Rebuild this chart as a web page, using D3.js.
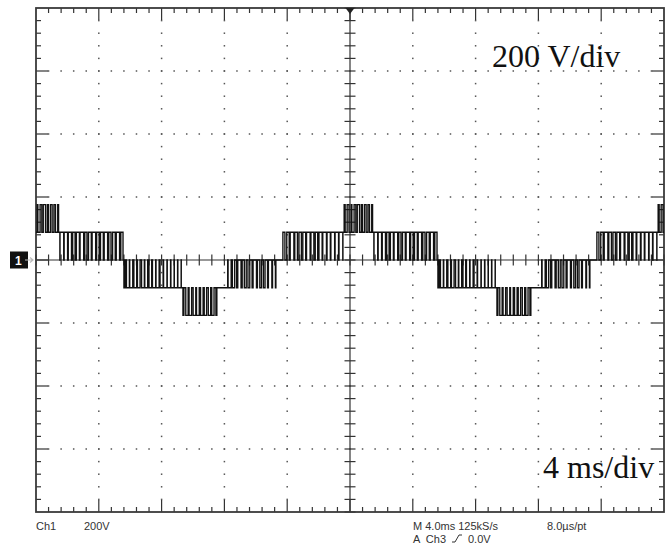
<!DOCTYPE html>
<html>
<head>
<meta charset="utf-8">
<script src="https://cdn.jsdelivr.net/npm/d3@7"></script>
<style>
  body { margin: 0; background: #fff; }
  .ro { font-family: "Liberation Sans", Arial, sans-serif; font-size: 11px; fill: #333; white-space: pre; }
  .big { font-family: "Liberation Serif", "Times New Roman", serif; font-size: 32px; fill: #111; }
</style>
</head>
<body>
<div id="scope"></div>
<script>
// one period of the inverter output (ms from the start of the +2 band)
const seg_bounds = [0, 1.97, 6.05, 8.92, 9.81, 11.97, 12.55, 15.73, 16.11, 20.0];
// level pair of each segment, in steps of step_volts
const seg_low = [1, 0, -1, -1, -2, -1, -1, 0, 0];
const seg_high = [2, 1, 0, 0, -1, -1, 0, 0, 1];
// share of each switching slot spent on the upper level
const duty_p2 = [0.3, 0.55, 0.2, 0.5, 0.65, 0.3, 0.5, 0.45, 0.25];
const duty_p1_fall = [0.92, 0.85, 0.8, 0.6, 0.75, 0.9, 0.55, 0.7, 0.88, 0.62, 0.7, 0.85, 0.55, 0.66, 0.82, 0.55];
const duty_n1_fall = [0.35, 0.1, 0.3, 0.2, 0.4, 0.12, 0.35, 0.2, 0.1, 0.25, 0.12, 0.08];
const duty_n1_edge = [0.1, 0.06, 0.08, 0.04];
const duty_n2 = [0.5, 0.25, 0.4, 0.2, 0.35, 0.3, 0.45, 0.3, 0.5];
const duty_n1_rise = [0.1, 0.3, 0.5, 0.85, 0.55, 0.45, 0.6, 0.88, 0.62, 0.5, 0.65, 0.9, 0.75];
const duty_p1_rise = [0.5, 0.6, 0.9, 0.65, 0.6, 0.7, 0.88, 0.72, 0.6, 0.78, 0.9, 0.8, 0.92, 0.85, 0.93];
const seg_duty = [duty_p2, duty_p1_fall, duty_n1_fall, duty_n1_edge, duty_n2, [], duty_n1_rise, [], duty_p1_rise];
// where each captured period starts on screen (ms)
const cycle_start = [-0.45, 19.55, 39.55];
const step_volts = 88;

// readout texts
const readout_left = ['Ch1', '200V'];
const readout_right = ['M 4.0ms 125kS/s', '8.0\u00b5s/pt'];
const trigger_text = ['A  Ch3', '0.0V'];

const svg_width = 671;
const svg_height = 546;
const frame = {left: 36, right: 664, top: 8, bottom: 512};

const x_scale = d3.scaleLinear([0, 40], [frame.left, frame.right]);     // 4 ms/div
const y_scale = d3.scaleLinear([-800, 800], [frame.bottom, frame.top]); // 200 V/div

const svg = d3.select('#scope')
              .append('svg')
              .attr('width', svg_width)
              .attr('height', svg_height);

// graticule
const grid = svg.append('g').attr('class', 'graticule');
const x_minor = d3.range(0, 40.001, 0.8);
const y_minor = d3.range(-800, 800.1, 40);
const grid_color = '#333';

// dotted division lines
x_minor.forEach((xv, i) => {
    if (i % 5 !== 0 || i === 0 || i === 50 || i === 25) return;
    y_minor.forEach((yv, j) => {
        if (j === 0 || j === 40) return;
        grid.append('rect')
            .attr('x', x_scale(xv) - 0.75).attr('y', y_scale(yv) - 0.75)
            .attr('width', 1.5).attr('height', 1.5)
            .attr('fill', '#555');
    });
});
y_minor.forEach((yv, j) => {
    if (j % 5 !== 0 || j === 0 || j === 40 || j === 20) return;
    x_minor.forEach((xv, i) => {
        if (i === 0 || i === 50) return;
        grid.append('rect')
            .attr('x', x_scale(xv) - 0.75).attr('y', y_scale(yv) - 0.75)
            .attr('width', 1.5).attr('height', 1.5)
            .attr('fill', '#555');
    });
});

// border ticks
x_minor.forEach((xv, i) => {
    if (i === 0 || i === 50) return;
    const len = i % 5 === 0 ? 12 : 5;
    const px = x_scale(xv);
    grid.append('line').attr('x1', px).attr('x2', px)
        .attr('y1', frame.top).attr('y2', frame.top + len);
    grid.append('line').attr('x1', px).attr('x2', px)
        .attr('y1', frame.bottom).attr('y2', frame.bottom - len);
});
y_minor.forEach((yv, j) => {
    if (j === 0 || j === 40) return;
    const len = j % 5 === 0 ? 12 : 5;
    const py = y_scale(yv);
    grid.append('line').attr('y1', py).attr('y2', py)
        .attr('x1', frame.left).attr('x2', frame.left + len);
    grid.append('line').attr('y1', py).attr('y2', py)
        .attr('x1', frame.right).attr('x2', frame.right - len);
});

// center cross with ticks
const cx = x_scale(20);
const cy = y_scale(0);
grid.append('line').attr('x1', cx).attr('x2', cx).attr('y1', frame.top).attr('y2', frame.bottom);
grid.append('line').attr('x1', frame.left).attr('x2', frame.right).attr('y1', cy).attr('y2', cy);
x_minor.forEach(xv => {
    grid.append('line').attr('x1', x_scale(xv)).attr('x2', x_scale(xv))
        .attr('y1', cy - 5.5).attr('y2', cy + 5.5);
});
y_minor.forEach(yv => {
    grid.append('line').attr('y1', y_scale(yv)).attr('y2', y_scale(yv))
        .attr('x1', cx - 5.5).attr('x2', cx + 5.5);
});
grid.selectAll('line').attr('stroke', grid_color).attr('stroke-width', 1.2);

// frame
grid.append('rect')
    .attr('x', frame.left).attr('y', frame.top)
    .attr('width', frame.right - frame.left).attr('height', frame.bottom - frame.top)
    .attr('fill', 'none').attr('stroke', '#3a3a3a').attr('stroke-width', 1.8);

// build the switching trace from the segment tables
const trace = [];
cycle_start.forEach(off => {
    seg_duty.forEach((duty, i) => {
        const t0 = seg_bounds[i];
        const t1 = seg_bounds[i + 1];
        const lo = seg_low[i] * step_volts;
        const hi = seg_high[i] * step_volts;
        if (duty.length === 0) {
            trace.push({t: off + t0, v: lo});
            return;
        }
        const slot = (t1 - t0) / duty.length;
        duty.forEach((d, j) => {
            const a = t0 + j * slot;
            const h0 = a + slot * (1 - d) / 2;
            trace.push({t: off + a, v: lo});
            trace.push({t: off + h0, v: hi});
            trace.push({t: off + h0 + slot * d, v: lo});
        });
    });
});
trace.push({t: 60, v: trace[trace.length - 1].v});

svg.append('clipPath').attr('id', 'screen')
    .append('rect')
    .attr('x', frame.left).attr('y', frame.top)
    .attr('width', frame.right - frame.left).attr('height', frame.bottom - frame.top);

const trace_line = d3.line()
                     .x(d => x_scale(d.t))
                     .y(d => y_scale(d.v))
                     .curve(d3.curveStepAfter);

svg.append('path')
    .datum(trace)
    .attr('clip-path', 'url(#screen)')
    .attr('d', trace_line)
    .attr('fill', 'none')
    .attr('stroke', '#111')
    .attr('stroke-width', 1.35);

// trigger position marker
svg.append('path')
    .attr('d', `M${cx - 4.5},${frame.top} L${cx + 4.5},${frame.top} L${cx},${frame.top + 6} Z`)
    .attr('fill', '#222');

// channel 1 ground marker
const marker = svg.append('g').attr('transform', `translate(10, ${cy})`);
marker.append('rect').attr('x', 0).attr('y', -8.5).attr('width', 18).attr('height', 17).attr('fill', '#111');
marker.append('text').attr('x', 5).attr('y', 4.5)
    .style('font-family', 'Liberation Sans, Arial, sans-serif')
    .style('font-size', '12px').style('font-weight', 'bold')
    .style('fill', '#fff').text('1');
marker.append('path').attr('d', 'M15,0 L23,0 M20,-2.5 L23,0 L20,2.5')
    .attr('stroke', '#bbb').attr('stroke-width', 1.2).attr('fill', 'none');

// scale labels
svg.append('text').attr('class', 'big').attr('x', 492).attr('y', 67).text('200 V/div');
svg.append('text').attr('class', 'big').attr('x', 543).attr('y', 478).text('4 ms/div');

// readout
svg.append('text').attr('class', 'ro').attr('x', 36).attr('y', 530).text(readout_left[0]);
svg.append('text').attr('class', 'ro').attr('x', 84).attr('y', 530).text(readout_left[1]);
svg.append('text').attr('class', 'ro').attr('x', 413).attr('y', 530).text(readout_right[0]);
svg.append('text').attr('class', 'ro').attr('x', 547).attr('y', 530).text(readout_right[1]);
svg.append('text').attr('class', 'ro').attr('x', 413).attr('y', 543).text(trigger_text[0]);
svg.append('path').attr('d', 'M452,542 L455,542 L459,535 L462,535')
    .attr('stroke', '#333').attr('stroke-width', 1).attr('fill', 'none');
svg.append('text').attr('class', 'ro').attr('x', 468).attr('y', 543).text(trigger_text[1]);
</script>
</body>
</html>
